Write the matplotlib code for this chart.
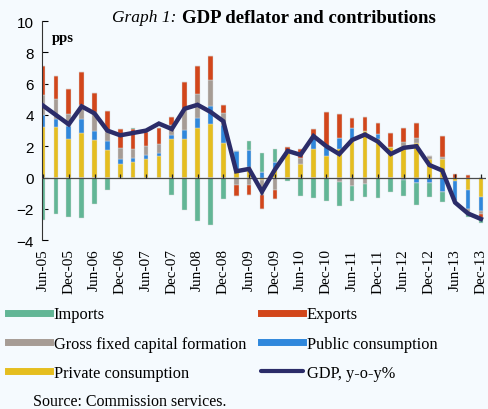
import numpy as np
import matplotlib
matplotlib.use("Agg")
import matplotlib.pyplot as plt
from matplotlib.lines import Line2D

quarters = [
    "Jun-05", "Sep-05", "Dec-05", "Mar-06", "Jun-06", "Sep-06", "Dec-06",
    "Mar-07", "Jun-07", "Sep-07", "Dec-07", "Mar-08", "Jun-08", "Sep-08",
    "Dec-08", "Mar-09", "Jun-09", "Sep-09", "Dec-09", "Mar-10", "Jun-10",
    "Sep-10", "Dec-10", "Mar-11", "Jun-11", "Sep-11", "Dec-11", "Mar-12",
    "Jun-12", "Sep-12", "Dec-12", "Mar-13", "Jun-13", "Sep-13", "Dec-13",
]

# contributions, pps
private = [3.24, 3.24, 2.46, 2.86, 2.39, 1.78, 0.85, 1.02, 1.17, 1.38, 2.46, 2.46,
           3.18, 3.45, 2.18, 0.36, 0.68, -0.17, 0.57, 1.55, 0.86, 1.81, 1.35, 1.85,
           2.40, 2.95, 2.44, 1.92, 2.03, 2.23, 1.17, 1.17, -0.20, -0.80, -1.27]
public = [0.74, 0.53, 0.82, 0.91, 0.58, 0.55, 0.34, 0.25, 0.27, 0.21, 0.25, 0.61,
          0.65, 1.13, 1.17, 1.31, 1.06, 0.36, 0.42, 0.00, 0.00, 0.85, 0.60, 0.70,
          0.79, 0.00, 0.32, 0.00, -0.15, -0.36, -0.36, -0.95, -1.30, -1.20, -0.90]
gfcf = [1.32, 1.27, 0.81, 0.89, 1.22, 0.59, 0.67, 0.55, 0.57, 0.53, 0.64, 1.29,
        1.53, 1.63, 0.80, -0.45, -0.49, -0.95, -0.80, 0.15, 0.42, 0.00, 0.00, -0.30,
        -0.53, -0.40, 0.00, 0.00, 0.25, 0.27, 0.22, 0.17, 0.00, -0.30, -0.15]
exports = [1.86, 1.44, 1.55, 2.08, 1.23, 1.32, 1.23, 1.27, 0.91, 1.06, 0.53, 1.78,
           1.76, 1.59, 0.51, -0.75, -0.64, -0.90, -0.55, 0.28, 0.53, 0.46, 2.25, 1.53,
           0.63, 0.90, 0.70, 0.95, 0.91, 0.96, 0.00, 1.32, 0.20, 0.15, -0.30]
imports = [-2.73, -2.31, -2.54, -2.58, -1.67, -0.81, 0.00, 0.10, 0.00, 0.00, -1.14, -2.08,
           -2.80, -3.01, -1.38, 0.00, 0.57, 1.23, 0.84, -0.24, -1.20, -1.32, -1.50, -1.53,
           -0.98, -0.86, -1.32, -0.90, -1.05, -1.37, -0.90, -0.63, -0.10, -0.25, -0.30]
gdp = [4.60, 4.00, 3.40, 4.55, 4.10, 3.00, 2.70, 2.85, 3.00, 3.45, 3.10, 4.40,
       4.65, 4.20, 3.60, 0.40, 0.55, -0.90, 0.50, 1.70, 1.45, 2.65, 2.00, 1.50,
       2.40, 2.75, 2.30, 1.50, 1.90, 2.00, 0.80, 0.45, -1.60, -2.30, -2.65]

series = [
    ("Private consumption", private, "#E5BE1F"),
    ("Public consumption", public, "#2F87DC"),
    ("Gross fixed capital formation", gfcf, "#A69C95"),
    ("Exports", exports, "#D2461B"),
    ("Imports", imports, "#62B696"),
]

bg = "#F5FAFE"
serif = "Liberation Serif"

fig = plt.figure(figsize=(4.88, 4.10), dpi=100, facecolor=bg)
ax = fig.add_axes([0.086, 0.412, 0.91, 0.534], facecolor=bg)

x = np.arange(len(quarters))
pos_base = np.zeros(len(x))
neg_base = np.zeros(len(x))
for name, vals, col in series:
    v = np.array(vals)
    p = np.where(v > 0, v, 0)
    n = np.where(v < 0, v, 0)
    ax.bar(x, p, 0.36, bottom=pos_base, color=col, edgecolor="#d9d9d9",
           linewidth=0.3, zorder=2)
    ax.bar(x, n, 0.36, bottom=neg_base, color=col, edgecolor="#d9d9d9",
           linewidth=0.3, zorder=2)
    pos_base += p
    neg_base += n

ax.axhline(0, color="#4a4a4a", lw=0.9, zorder=3)
ax.vlines(x[::2], 0, 0.22, color="#222222", lw=0.9, zorder=3)
ax.plot(x, gdp, color="#2B2C69", lw=3.2, zorder=4, solid_joinstyle="miter")

ax.set_xlim(-0.08, 34.4)
ax.set_ylim(-4, 10)
ax.set_yticks(range(-4, 11, 2))
ax.set_xticks(x[::2])
ax.set_xticklabels(quarters[::2], rotation=90, fontfamily=serif, fontsize=11)
ax.tick_params(axis="x", length=0, pad=6)
ax.tick_params(axis="y", direction="in", length=4, labelsize=11, pad=6)
for lab in ax.get_yticklabels():
    lab.set_fontfamily("Liberation Sans")
for s in ["top", "right", "bottom"]:
    ax.spines[s].set_visible(False)
ax.spines["left"].set_color("#333333")

ax.text(0.023, 0.925, "pps", transform=ax.transAxes, fontfamily=serif,
        fontweight="bold", fontsize=10.5, va="center")

fig.text(0.362, 0.956, "Graph 1:", fontfamily=serif, style="italic",
         fontsize=12.5, ha="right", va="center")
fig.text(0.372, 0.956, "GDP deflator and contributions", fontfamily=serif,
         fontweight="bold", fontsize=13.5, ha="left", va="center")

handles = {name: Line2D([], [], color=col, lw=5) for name, _, col in series}
handles["GDP, y-o-y%"] = Line2D([], [], color="#2B2C69", lw=3,
                                solid_capstyle="round")
order = ["Imports", "Gross fixed capital formation", "Private consumption",
         "Exports", "Public consumption", "GDP, y-o-y%"]
fig.legend([handles[k] for k in order], order, loc="upper left",
           bbox_to_anchor=(0.016, 0.25), ncol=2, frameon=False,
           prop={"family": serif, "size": 11.8}, handlelength=2.6,
           handletextpad=0.2, columnspacing=0.9, labelspacing=0.8,
           borderpad=0, borderaxespad=0)

fig.text(0.068, 0.02, "Source: Commission services.", fontfamily=serif,
         fontsize=11.5, va="center")

fig.savefig("out.png", dpi=100, facecolor=bg)
